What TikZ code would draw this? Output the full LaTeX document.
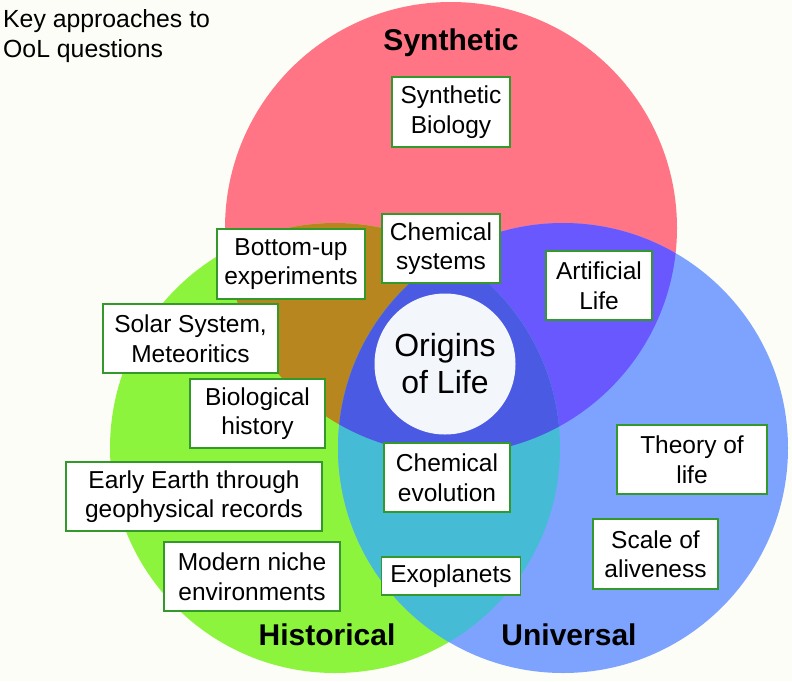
\documentclass[tikz,border=0pt]{standalone}
\usepackage{fontspec}
\setmainfont{Liberation Sans}
\definecolor{bgc}{HTML}{FBFDF6}
\definecolor{redc}{HTML}{FF7585}
\definecolor{greenc}{HTML}{8DF43E}
\definecolor{bluec}{HTML}{7EA3FF}
\definecolor{brownc}{HTML}{B8861E}
\definecolor{purplec}{HTML}{6A58FF}
\definecolor{cyanc}{HTML}{45BBD6}
\definecolor{centerc}{HTML}{4A5AE2}
\definecolor{boxgreen}{HTML}{33992B}
\definecolor{corec}{HTML}{F3F7FC}
\tikzset{
  box/.style={draw=boxgreen, line width=1.8pt, fill=white, align=center,
    font=\fontsize{24.5}{29.5}\selectfont, inner sep=0pt, minimum height=69pt},
  biglabel/.style={font=\fontsize{30}{36}\selectfont\bfseries, anchor=base, inner sep=0pt},
}
\begin{document}
\begin{tikzpicture}[x=1pt,y=-1pt]
\fill[bgc] (0,0) rectangle (792,681);
\useasboundingbox (0,0) rectangle (792,681);
\def\rc{(451,228) circle[radius=226]}
\def\gc{(335,448) circle[radius=225]}
\def\bc{(563,448) circle[radius=225]}
% circles
\fill[redc] \rc;
\fill[greenc] \gc;
\fill[bluec] \bc;
\begin{scope}
  \clip \rc; \fill[brownc] \gc;
\end{scope}
\begin{scope}
  \clip \rc; \fill[purplec] \bc;
\end{scope}
\begin{scope}
  \clip \gc; \fill[cyanc] \bc;
\end{scope}
\begin{scope}
  \clip \rc; \clip \gc; \fill[centerc] \bc;
\end{scope}
% title
\node[anchor=north west, align=left, inner sep=0pt, font=\fontsize{24.8}{30}\selectfont] (title) at (3,9.5) {Key approaches to\\OoL questions};
% circle labels
\node[biglabel] (syn) at (451,50) {Synthetic};
\node[biglabel] (hist) at (327,645) {Historical};
\node[biglabel] (univ) at (569,645) {Universal};
% core
\node[circle, fill=corec, minimum size=141pt, inner sep=0pt, align=center,
  font=\fontsize{32}{37}\selectfont] (core) at (445,364) {Origins\\of Life};
% boxes
\node[box, minimum width=118pt, minimum height=70pt] (synbio) at (451,112) {Synthetic\\Biology};
\node[box, minimum width=148pt, minimum height=70pt] (bottom) at (291,264) {Bottom-up\\experiments};
\node[box, minimum width=118pt] (chemsys) at (441,248.5) {Chemical\\systems};
\node[box, minimum width=106pt] (artlife) at (599,285.5) {Artificial\\Life};
\node[box, minimum width=175pt] (solar) at (190.5,338.5) {Solar System,\\Meteoritics};
\node[box, minimum width=135pt] (bio) at (257.5,413.5) {Biological\\history};
\node[box, minimum width=256pt] (early) at (194,496.5) {Early Earth through\\geophysical records};
\node[box, minimum width=176pt] (modern) at (252,576.5) {Modern niche\\environments};
\node[box, minimum width=126pt] (chemevo) at (447,477.5) {Chemical\\evolution};
\node[box, minimum width=139pt, minimum height=38pt] (exo) at (451,576) {Exoplanets};
\node[box, minimum width=150pt] (theory) at (692,459.5) {Theory of\\life};
\node[box, minimum width=125pt, minimum height=70pt] (scale) at (655.5,554) {Scale of\\aliveness};
\end{tikzpicture}
\end{document}
